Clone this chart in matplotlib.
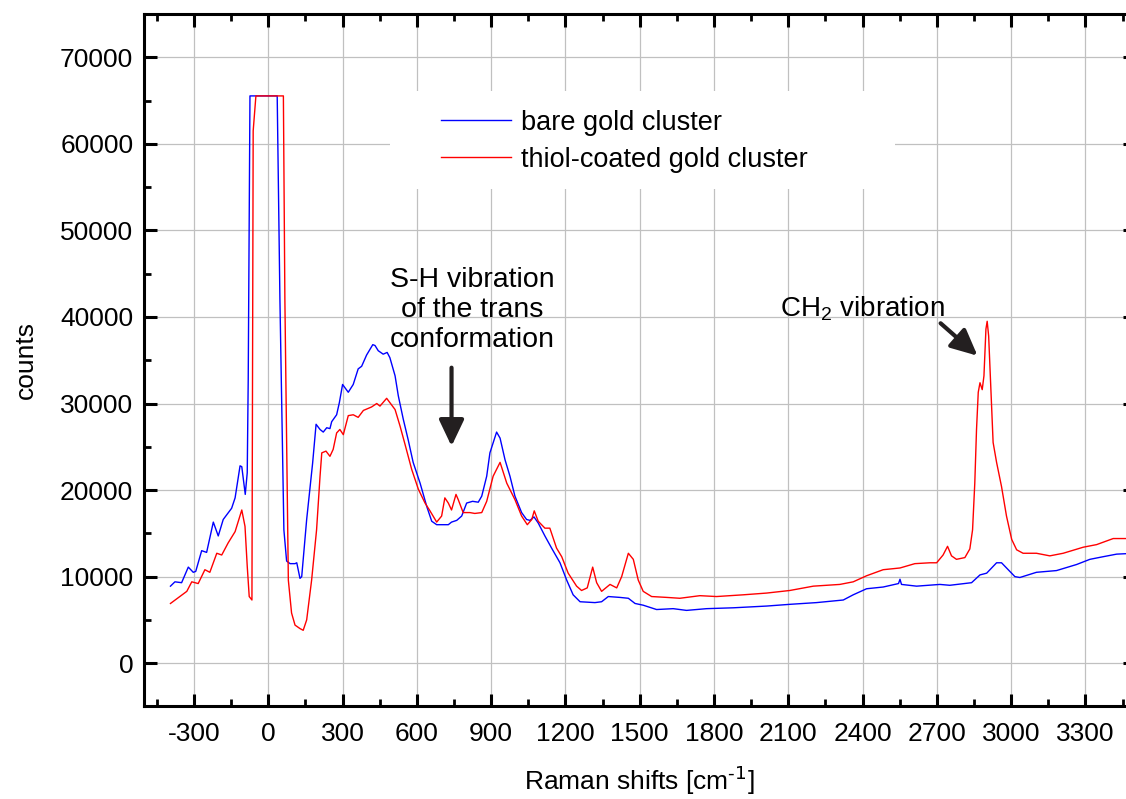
import matplotlib
matplotlib.use("Agg")
import matplotlib.pyplot as plt
from matplotlib.patches import Rectangle
from matplotlib.ticker import MultipleLocator

plt.rcParams['font.family'] = ['Liberation Sans', 'DejaVu Sans']
plt.rcParams['mathtext.default'] = 'regular'
plt.rcParams['axes.unicode_minus'] = False

# Raman spectra (counts vs. shift in cm^-1), detector saturates at 65535
bare_shift = [-395, -377, -350, -323, -303, -293, -269, -249, -222, -202, -182, -148,
              -134, -114, -107, -93, -85, -81, -74, 36, 47, 63, 74, 88, 108, 115, 128,
              135, 155, 179, 193, 209, 222, 236, 249, 256, 276, 287, 300, 323, 343, 363,
              377, 397, 422, 431, 444, 464, 480, 491, 512, 525, 545, 565, 585, 613, 640,
              660, 680, 727, 740, 761, 781, 801, 825, 848, 862, 882, 895, 922, 936, 956,
              976, 996, 1023, 1043, 1057, 1073, 1090, 1117, 1144, 1178, 1205, 1231, 1259,
              1319, 1346, 1373, 1420, 1454, 1481, 1514, 1568, 1635, 1689, 1770, 1878,
              2012, 2106, 2214, 2322, 2362, 2416, 2483, 2545, 2551, 2557, 2618, 2712,
              2752, 2840, 2874, 2901, 2941, 2961, 2988, 3015, 3035, 3102, 3183, 3264,
              3318, 3371, 3426, 3500]
bare_counts = [8900, 9400, 9300, 11100, 10500, 10600, 13000, 12800, 16300, 14700, 16600,
               17900, 19100, 22800, 22700, 19500, 22000, 32800, 65535, 65535, 42000,
               15400, 11800, 11500, 11500, 11600, 9800, 10000, 16600, 23100, 27600,
               27000, 26700, 27200, 27100, 27900, 28700, 30100, 32200, 31300, 32200,
               34000, 34300, 35600, 36800, 36700, 36100, 35700, 35900, 35300, 33200,
               30900, 28200, 25800, 23200, 20800, 18100, 16400, 16000, 16000, 16300,
               16500, 17000, 18500, 18700, 18600, 19300, 21600, 24300, 26700, 26000,
               23500, 21600, 19300, 17400, 16600, 16500, 16900, 16200, 14700, 13300,
               11600, 9600, 7900, 7100, 7000, 7100, 7700, 7600, 7500, 6900, 6700, 6200,
               6300, 6100, 6300, 6400, 6600, 6800, 7000, 7300, 7900, 8600, 8800, 9200,
               9700, 9100, 8900, 9100, 9000, 9300, 10200, 10400, 11600, 11600, 10800,
               10000, 9900, 10500, 10700, 11400, 12000, 12300, 12600, 12700]

coated_shift = [-395, -357, -329, -309, -283, -256, -236, -208, -188, -162, -134, -107,
                -94, -85, -77, -66, -61, -50, 61, 67, 81, 94, 108, 128, 141, 155, 175,
                195, 209, 216, 233, 249, 262, 276, 289, 303, 323, 343, 363, 384, 417,
                438, 451, 478, 491, 512, 532, 552, 579, 606, 633, 653, 680, 700, 713,
                727, 740, 758, 767, 787, 814, 834, 862, 882, 908, 936, 963, 996, 1023,
                1046, 1064, 1074, 1090, 1117, 1137, 1164, 1185, 1211, 1245, 1265, 1288,
                1310, 1326, 1346, 1380, 1407, 1427, 1454, 1474, 1494, 1514, 1548, 1609,
                1662, 1743, 1810, 1918, 2012, 2106, 2201, 2308, 2362, 2416, 2483, 2551,
                2611, 2672, 2699, 2725, 2743, 2759, 2779, 2813, 2833, 2844, 2853, 2860,
                2867, 2874, 2883, 2890, 2898, 2903, 2909, 2917, 2927, 2941, 2961, 2981,
                3002, 3022, 3048, 3102, 3156, 3210, 3291, 3345, 3412, 3500]
coated_counts = [6900, 7700, 8300, 9400, 9200, 10800, 10500, 12700, 12500, 13900, 15200,
                 17700, 15800, 11200, 7700, 7300, 61500, 65535, 65535, 42000, 9600, 5800,
                 4400, 4000, 3800, 5000, 9600, 15400, 21600, 24300, 24500, 23900, 24700,
                 26600, 27000, 26400, 28600, 28700, 28400, 29200, 29600, 30000, 29700,
                 30600, 30100, 29300, 27400, 25300, 22400, 20100, 18500, 17600, 16300,
                 17000, 19100, 18500, 17700, 19500, 18900, 17400, 17400, 17300, 17400,
                 18700, 21600, 23200, 20800, 18900, 17000, 16000, 16600, 17600, 16400,
                 15600, 15600, 13300, 12300, 10400, 8900, 8400, 8700, 11100, 9300, 8300,
                 9100, 8700, 10000, 12700, 12000, 9600, 8300, 7700, 7600, 7500, 7800,
                 7700, 7900, 8100, 8400, 8900, 9100, 9400, 10100, 10800, 11000, 11500,
                 11600, 11600, 12500, 13500, 12400, 12000, 12200, 13200, 15400, 20800,
                 27000, 31300, 32400, 31600, 33200, 38600, 39500, 37800, 32400, 25500,
                 23200, 20400, 17000, 14300, 13100, 12700, 12700, 12400, 12700, 13400,
                 13700, 14400, 14400]

series_labels = ['bare gold cluster', 'thiol-coated gold cluster']

fig = plt.figure(figsize=(11.26, 7.99), dpi=100)
ax = fig.add_axes([0.1283, 0.1158, 0.8797, 0.8667])

ax.plot(bare_shift, bare_counts, color='#0000ff', lw=1.0, label=series_labels[0], zorder=3)
ax.plot(coated_shift, coated_counts, color='#ff0000', lw=1.0, label=series_labels[1], zorder=3)

ax.set_xlim(-500, 3500)
ax.set_ylim(-5000, 75000)
ax.xaxis.set_major_locator(MultipleLocator(300))
ax.xaxis.set_minor_locator(MultipleLocator(150))
ax.yaxis.set_major_locator(MultipleLocator(10000))
ax.yaxis.set_minor_locator(MultipleLocator(5000))
ax.set_yticks(range(0, 70001, 10000))

ax.grid(True, which='major', color='#c0c0c0', lw=0.9, zorder=1)
for s in ax.spines.values():
    s.set_linewidth(2.2)
ax.tick_params(which='both', direction='in', top=True, right=True, labelsize=19)
ax.tick_params(which='major', length=9, width=2.2)
ax.tick_params(axis='x', which='major', pad=11)
ax.tick_params(axis='y', which='major', pad=8)
ax.tick_params(which='minor', length=5, width=2.0)

ax.set_xlabel(r'Raman shifts [cm$^{\text{-1}}$]', fontsize=19, labelpad=13)
ax.set_ylabel('counts', fontsize=19, labelpad=16)

# white panel behind the legend
ax.add_patch(Rectangle((0.2479, 0.7473), 0.5098, 0.1415, transform=ax.transAxes,
                       facecolor='white', edgecolor='none', zorder=2))
ax.legend(loc='upper left', bbox_to_anchor=(0.2993, 0.862), frameon=False,
          fontsize=19.5, borderpad=0, borderaxespad=0, handlelength=2.6,
          handletextpad=0.35, labelspacing=0.42)

arrow_kw = dict(arrowstyle='-|>,head_length=0.8,head_width=0.38', lw=3.0,
                color='#231f20', mutation_scale=20, shrinkA=0, shrinkB=0)
ax.annotate('', xy=(740, 25070), xytext=(740, 34140), arrowprops=arrow_kw)
ax.text(825, 40800, 'S-H vibration\nof the trans\nconformation', fontsize=20.5,
        ha='center', va='center', multialignment='center', linespacing=1.2)

ax.annotate('', xy=(2864, 35520), xytext=(2715, 39270), arrowprops=arrow_kw)
ax.text(2400, 41000, 'CH$_2$ vibration', fontsize=20, ha='center', va='center')

fig.savefig('out.png', dpi=100)
